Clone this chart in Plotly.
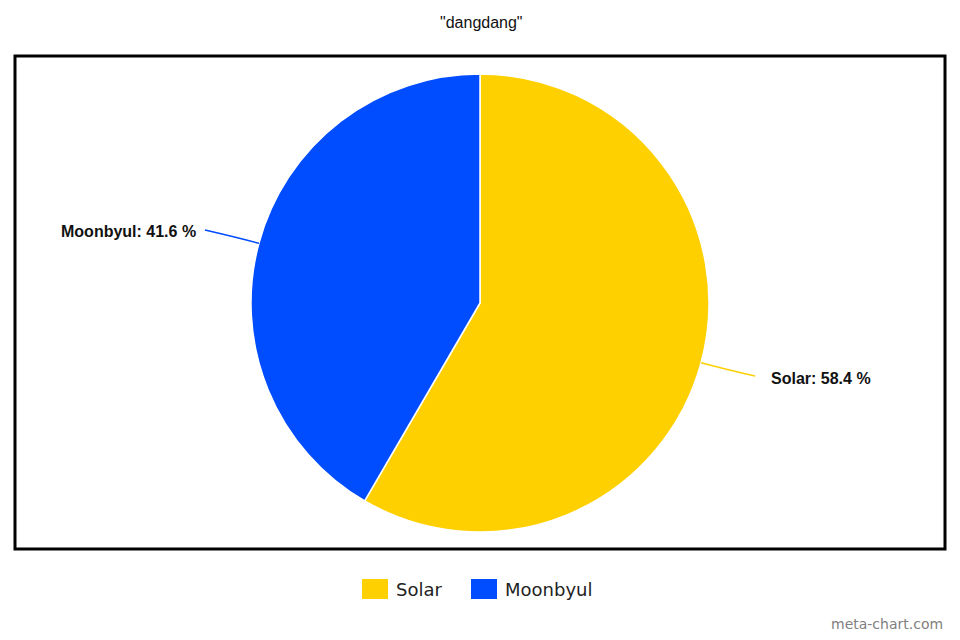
import math
import plotly.graph_objects as go

# ---- data ----
labels = ["Solar", "Moonbyul"]
values = [58.4, 41.6]
colors = ["#FFD000", "#004CFF"]
title_text = '"dangdang"'

# ---- layout constants (page pixels; page has an 8px body margin) ----
OFF = 8
W, H = 944, 624
BOX_L, BOX_R, BOX_T, BOX_B = 15, 945, 56, 549
ML, MT = BOX_L - OFF, BOX_T - OFF
MR = W - (BOX_R - OFF)
MB = H - (BOX_B - OFF)
PW, PH = W - ML - MR, H - MT - MB
R = 229                      # pie radius in px
CX_PX, CY_PX = 480, 303      # pie centre (page coords)


def to_paper(px, py):
    fx, fy = px - OFF, py - OFF
    return (fx - ML) / PW, (MT + PH - fy) / PH


dom_y0 = to_paper(0, CY_PX + R)[1]
dom_y1 = to_paper(0, CY_PX - R)[1]
dom_x0 = to_paper(CX_PX - R, 0)[0]
dom_x1 = to_paper(CX_PX + R, 0)[0]

fig = go.Figure()
fig.add_trace(go.Pie(
    labels=labels, values=values, sort=False, direction="clockwise", rotation=0,
    marker=dict(colors=colors, line=dict(color="white", width=1.5)),
    textinfo="none", hovertemplate="%{label}: %{percent}<extra></extra>",
    domain=dict(x=[dom_x0, dom_x1], y=[dom_y0, dom_y1]),
    showlegend=False,
))

total = sum(values)
cum = 0.0
shapes = [dict(type="rect", xref="paper", yref="paper", x0=0, x1=1, y0=0, y1=1,
               line=dict(color="black", width=3), layer="above")]
annotations = []
for lab, val, col in zip(labels, values, colors):
    mid = (cum + val / 2) / total * 2 * math.pi   # clockwise from top
    cum += val
    dx, dy = math.sin(mid), -math.cos(mid)        # page coords (y down)
    side = 1 if dx >= 0 else -1
    p0 = (CX_PX + R * dx, CY_PX + R * dy)
    p1 = (CX_PX + (R + 22) * dx, CY_PX + (R + 22) * dy)
    ly = CY_PX + 280 * dy
    p2 = (CX_PX + side * (R + 46), ly)
    a, b, c = to_paper(*p0), to_paper(*p1), to_paper(*p2)
    shapes.append(dict(type="path", xref="paper", yref="paper",
                       path=f"M {a[0]},{a[1]} Q {b[0]},{b[1]} {c[0]},{c[1]}",
                       line=dict(color=col, width=1.5), layer="above"))
    gap = 14 if side > 0 else 7
    tx, ty = to_paper(p2[0] + side * gap, ly + 2)
    annotations.append(dict(
        xref="paper", yref="paper", x=tx, y=ty, showarrow=False,
        xanchor="left" if side > 0 else "right", yanchor="middle",
        text=f"<b>{lab}: {val:.1f} %</b>",
        font=dict(family="Liberation Sans, Arial", size=16, color="#111111"),
    ))

# legend (swatches + names), built from the label/colour lists
LEG_Y = 589
LEG_X = [362, 471]           # left edge of each swatch (page px)
for lab, col, lx in zip(labels, colors, LEG_X):
    x0, y0 = to_paper(lx, LEG_Y + 10)
    x1, y1 = to_paper(lx + 26, LEG_Y - 10)
    shapes.append(dict(type="rect", xref="paper", yref="paper",
                       x0=x0, x1=x1, y0=y0, y1=y1,
                       fillcolor=col, line=dict(width=0)))
    tx, ty = to_paper(lx + 32, LEG_Y)
    annotations.append(dict(
        xref="paper", yref="paper", x=tx, y=ty, showarrow=False,
        xanchor="left", yanchor="middle", text=lab,
        font=dict(family="DejaVu Sans", size=18, color="#222222"),
    ))

wx, wy = to_paper(945, 634)
annotations.append(dict(
    xref="paper", yref="paper", x=wx, y=wy, showarrow=False,
    xanchor="right", yanchor="bottom", text="meta-chart.com",
    font=dict(family="DejaVu Sans", size=14, color="#808080"),
))

tx, ty = to_paper(481, 22)
annotations.append(dict(
    xref="paper", yref="paper", x=tx, y=ty, showarrow=False,
    xanchor="center", yanchor="middle", text=title_text,
    font=dict(family="Liberation Sans, Arial", size=16, color="#111111"),
))

fig.update_layout(
    width=W, height=H,
    margin=dict(l=ML, r=MR, t=MT, b=MB),
    paper_bgcolor="white", plot_bgcolor="white",
    showlegend=False,
    shapes=shapes, annotations=annotations,
)

fig.write_html("out.html")
